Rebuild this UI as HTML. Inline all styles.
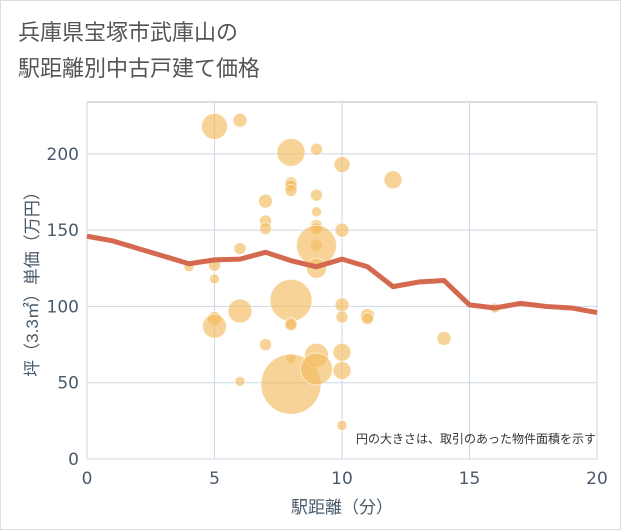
<!DOCTYPE html>
<html><head><meta charset="utf-8">
<style>
body{margin:0;background:#fff;font-family:"Liberation Sans","Noto Sans CJK JP",sans-serif;}
#wrap{position:relative;width:619px;height:528px;border:1px solid #ddd;background:#fff;}
.tk{font-family:"DejaVu Sans","Liberation Sans",sans-serif;}
</style></head>
<body>
<div id="wrap">
<svg id="chart" width="621" height="530" viewBox="0 0 621 530" style="position:absolute;left:-1px;top:-1px">
<text x="18" y="40" font-size="22" fill="#555">兵庫県宝塚市武庫山の</text>
<text x="18" y="76" font-size="22" fill="#555">駅距離別中古戸建て価格</text>
<g id="grid"></g>
<g id="bubbles"></g>
<g id="line"></g>
<g id="axes"></g>
<text x="596" y="443" font-size="12" fill="#333" text-anchor="end">円の大きさは、取引のあった物件面積を示す</text>
<text x="342" y="513" font-size="17" fill="#4a5a6a" text-anchor="middle">駅距離（分）</text>
<text transform="translate(38,280) rotate(-90)" font-size="17" fill="#4a5a6a" text-anchor="middle">坪（3.3㎡）単価（万円）</text>
</svg>
</div>
<script>
const xTicks=[0,5,10,15,20];
const yTicks=[0,50,100,150,200];
const bubbleX=[4,5,5,5,5,5,6,6,6,6,7,7,7,7,8,8,8,8,8,8,8,8,8,9,9,9,9,9,9,9,9,9,9,10,10,10,10,10,10,10,11,11,12,14,16];
const bubbleY=[126,218,127,118,92,87,222,138,97,51,169,156,151,75,201,181,179,176,104,89,88,66,49,203,173,162,153,151,140,140,125,68,59,193,150,101,93,70,58,22,94,92,183,79,99];
const bubbleR=[5,13,6,5,7,12,7,6,12,5,7,6,6,6,14,6,6,6,21,6,6,5,30,6,6,5,6,6,6,20,10,12,16,8,7,7,6,9,9,5,7,6,9,7,5];
const lineX=[0,1,2,3,4,5,6,7,8,9,10,11,12,13,14,15,16,17,18,19,20];
const lineY=[146,143,138,133,128,130.5,131,135.5,130,126,131,126,113,116,117,101,99,102,100,99,96];
const NS="http://www.w3.org/2000/svg";
const L=87,R=597,T=102,B=459;
const sx=v=>L+(v-0)/(20-0)*(R-L);
const sy=v=>B-v/234*(B-T);
function mk(tag,attrs,parent){const e=document.createElementNS(NS,tag);for(const k in attrs)e.setAttribute(k,attrs[k]);parent.appendChild(e);return e;}
const grid=document.getElementById('grid'),axes=document.getElementById('axes');
mk('line',{x1:L,y1:T,x2:R,y2:T,stroke:'#bbb','stroke-width':1},grid);
yTicks.forEach(t=>{
  const g=mk('line',{x1:L,y1:sy(t),x2:R,y2:sy(t),stroke:'#cdd8e3','stroke-width':1},grid);
  
  
  const tx=mk('text',{x:L-8,y:sy(t)+6,'font-size':17,fill:'#4a5a6a','text-anchor':'end',class:'tk'},axes);
  tx.textContent=t;
  
  
});
xTicks.forEach(t=>{
  const g=mk('line',{x1:sx(t),y1:T,x2:sx(t),y2:B,stroke:'#cdd8e3','stroke-width':1},grid);
  
  
  const tx=mk('text',{x:sx(t),y:B+25,'font-size':17,fill:'#4a5a6a','text-anchor':'middle',class:'tk'},axes);
  tx.textContent=t;
  
  
});
const bg=document.getElementById('bubbles');
bubbleX.forEach((x,i)=>{
  const c=mk('circle',{cx:sx(x),cy:sy(bubbleY[i]),r:bubbleR[i],fill:'#f2bb60','fill-opacity':0.65,stroke:'#fff','stroke-opacity':0.6,'stroke-width':1},bg);
  
  
});
const lg=document.getElementById('line');
const p=mk('polyline',{points:lineX.map((x,i)=>sx(x)+','+sy(lineY[i])).join(' '),fill:'none',stroke:'#d4694f','stroke-width':5,'stroke-linejoin':'round'},lg);


</script>
</body></html>
